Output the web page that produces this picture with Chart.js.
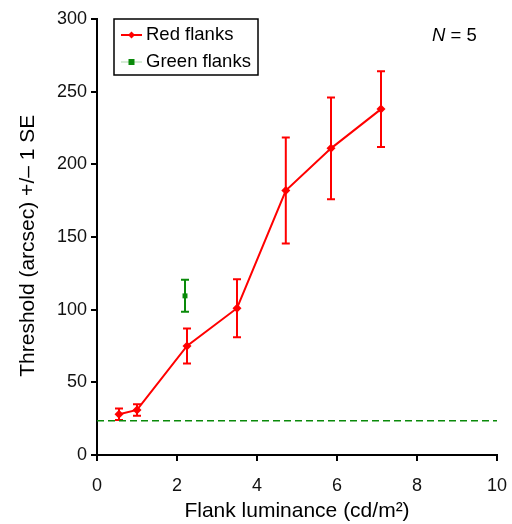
<!DOCTYPE html>
<html>
<head>
<meta charset="utf-8">
<script src="https://cdn.jsdelivr.net/npm/chart.js@4.4.0/dist/chart.umd.min.js"></script>
<style>
  html, body { margin: 0; padding: 0; background: #fff; }
  #wrap { width: 512px; height: 524px; }
</style>
</head>
<body>
<div id="wrap"><canvas id="c" width="512" height="524"></canvas></div>
<script>
// red flanks: luminance, threshold, SE
const redX = [0.55, 1.0, 2.25, 3.5, 4.72, 5.85, 7.1];
const redY = [28, 31, 75, 101, 182, 211, 238];
const redErr = [4, 4, 12, 20, 36.5, 35, 26];

// green flanks
const greenX = [2.2];
const greenY = [109.5];
const greenErr = [11];

// dashed reference level
const refX = [0, 10];
const refY = [23.5, 23.5];

const xTicks = [0, 2, 4, 6, 8, 10];
const yTicks = [0, 50, 100, 150, 200, 250, 300];

const FONT = "'Liberation Sans', Arial, Helvetica, sans-serif";
const RED = '#ff0000';
const GREEN = '#0a8a0a';

function pts(xs, ys) {
  return xs.map((x, i) => ({ x: x, y: ys[i] }));
}

// error bars drawn through the y scale
const errorBars = {
  id: 'errorBars',
  beforeDatasetsDraw(chart) {
    const ctx = chart.ctx;
    const yScale = chart.scales.y;
    chart.data.datasets.forEach((ds, di) => {
      if (!ds.errors) return;
      const meta = chart.getDatasetMeta(di);
      ctx.save();
      ctx.strokeStyle = ds.borderColor;
      ctx.lineWidth = 2;
      meta.data.forEach((p, i) => {
        const v = ds.data[i].y;
        const e = ds.errors[i];
        const top = yScale.getPixelForValue(v + e);
        const bot = yScale.getPixelForValue(v - e);
        ctx.beginPath();
        ctx.moveTo(p.x, top); ctx.lineTo(p.x, bot);
        ctx.moveTo(p.x - 4, top); ctx.lineTo(p.x + 4, top);
        ctx.moveTo(p.x - 4, bot); ctx.lineTo(p.x + 4, bot);
        ctx.stroke();
      });
      ctx.restore();
    });
  }
};

// boxed legend + N label
const legendBox = {
  id: 'legendBox',
  afterDraw(chart) {
    const ctx = chart.ctx;
    const a = chart.chartArea;
    const bx = a.left + 17, by = a.top, bw = 144, bh = 56;
    ctx.save();
    ctx.strokeStyle = '#000';
    ctx.lineWidth = 1.5;
    ctx.strokeRect(bx, by, bw, bh);
    const items = [
      { label: 'Red flanks', line: RED, lw: 2, mark: 'diamond', col: RED },
      { label: 'Green flanks', line: 'rgba(10,138,10,0.35)', lw: 1, mark: 'square', col: GREEN }
    ];
    ctx.font = '18.5px ' + FONT;
    ctx.textBaseline = 'middle';
    items.forEach((it, i) => {
      const cy = by + 16 + i * 27;
      const x0 = bx + 7, x1 = bx + 28, xm = (x0 + x1) / 2;
      ctx.strokeStyle = it.line;
      ctx.lineWidth = it.lw;
      ctx.beginPath(); ctx.moveTo(x0, cy); ctx.lineTo(x1, cy); ctx.stroke();
      ctx.fillStyle = it.col;
      ctx.beginPath();
      if (it.mark === 'diamond') {
        ctx.moveTo(xm, cy - 3.5); ctx.lineTo(xm + 3.5, cy);
        ctx.lineTo(xm, cy + 3.5); ctx.lineTo(xm - 3.5, cy);
        ctx.closePath(); ctx.fill();
      } else {
        ctx.fillRect(xm - 3, cy - 3, 6, 6);
      }
      ctx.fillStyle = '#000';
      ctx.fillText(it.label, bx + 32, cy);
    });
    // N = 5
    ctx.font = 'italic 18.5px ' + FONT;
    const nx = a.right - 65, ny = a.top + 17;
    ctx.fillText('N', nx, ny);
    const w = ctx.measureText('N').width;
    ctx.font = '18.5px ' + FONT;
    ctx.fillText(' = 5', nx + w, ny);
    ctx.restore();
  }
};

new Chart(document.getElementById('c'), {
  type: 'scatter',
  data: {
    datasets: [
      {
        label: 'Red flanks',
        data: pts(redX, redY),
        errors: redErr,
        showLine: true,
        borderColor: RED,
        backgroundColor: RED,
        borderWidth: 2,
        pointStyle: 'rectRot',
        pointRadius: 4.5,
        pointBorderWidth: 0,
        tension: 0
      },
      {
        label: 'Green flanks',
        data: pts(greenX, greenY),
        errors: greenErr,
        showLine: false,
        borderColor: GREEN,
        backgroundColor: GREEN,
        pointStyle: 'rect',
        pointRadius: 3.5,
        pointBorderWidth: 0
      },
      {
        label: 'reference',
        data: pts(refX, refY),
        showLine: true,
        borderColor: GREEN,
        borderWidth: 1.5,
        borderDash: [7, 4],
        pointRadius: 0
      }
    ]
  },
  options: {
    responsive: false,
    animation: false,
    layout: { padding: { top: 19, right: 15, left: 0, bottom: 0 } },
    plugins: {
      legend: { display: false },
      tooltip: { enabled: false }
    },
    scales: {
      x: {
        type: 'linear',
        min: 0, max: 10,
        afterBuildTicks: s => { s.ticks = xTicks.map(v => ({ value: v })); },
        afterFit: s => { s.height = 69; s.paddingRight = 0; },
        grid: { display: true, drawOnChartArea: false, drawTicks: true, tickLength: 6, color: '#000', lineWidth: 2 },
        border: { display: true, color: '#000', width: 2 },
        ticks: { color: '#111', font: { family: FONT, size: 18 }, padding: 14 },
        title: { display: true, text: 'Flank luminance (cd/m²)', color: '#000', font: { family: FONT, size: 21 }, padding: { top: 0, bottom: 0 } }
      },
      y: {
        type: 'linear',
        min: 0, max: 300,
        afterBuildTicks: s => { s.ticks = yTicks.map(v => ({ value: v })); },
        afterFit: s => { s.width = 97; },
        grid: { display: true, drawOnChartArea: false, drawTicks: true, tickLength: 6, color: '#000', lineWidth: 2 },
        border: { display: true, color: '#000', width: 2 },
        ticks: { color: '#111', font: { family: FONT, size: 18 }, padding: 4 },
        // trailing spaces nudge the centred title down a few px like the original
        title: { display: true, text: 'Threshold (arcsec) +/– 1 SE   ', color: '#000', font: { family: FONT, size: 21 }, padding: { top: 16, bottom: 0 } }
      }
    }
  },
  plugins: [errorBars, legendBox]
});
</script>
</body>
</html>
